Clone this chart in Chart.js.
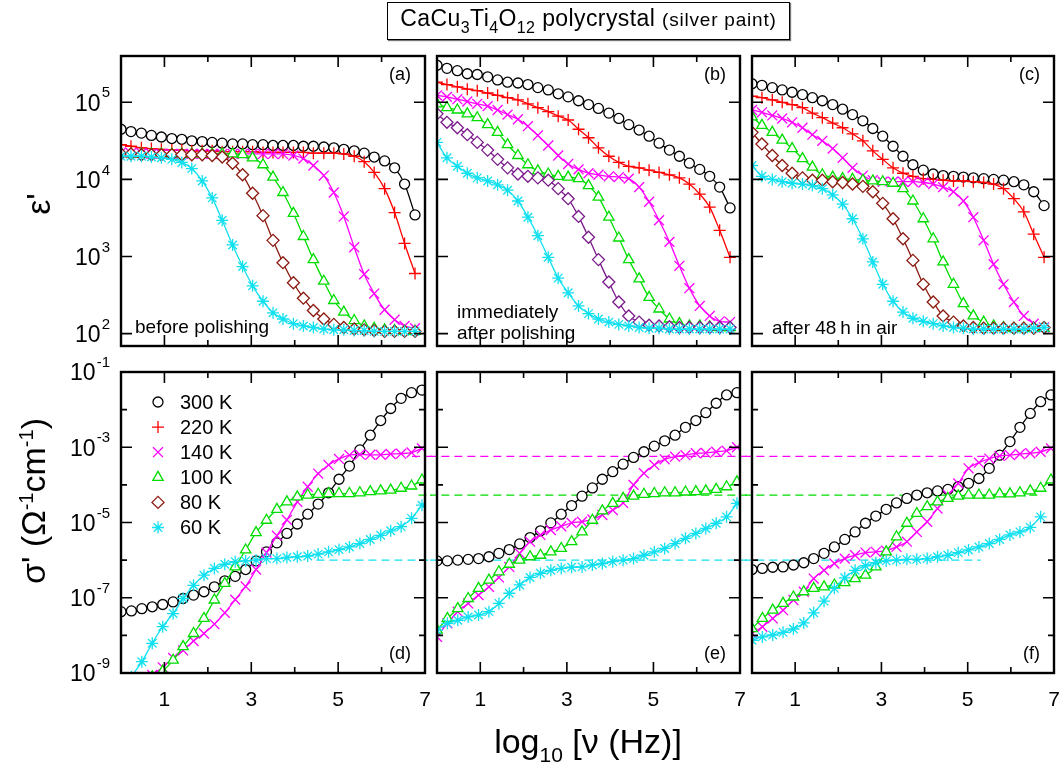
<!DOCTYPE html>
<html>
<head>
<meta charset="utf-8">
<script src="https://cdn.jsdelivr.net/npm/chart.js@4.4.1/dist/chart.umd.min.js"></script>
<style>
html, body { margin: 0; padding: 0; background: #fff; }
#page { position: relative; width: 1063px; height: 767px; overflow: hidden;
  font-family: "Liberation Sans", Arial, sans-serif; color: #000; }
#page canvas { position: absolute; left: 0; top: 0; }
.txt { position: absolute; white-space: nowrap; line-height: 1; }
.sb { font-size: 16px; vertical-align: -7px; }
.rot { transform: translate(-50%, -50%) rotate(-90deg); }
#title { left: 387px; top: 2px; width: 401px; height: 36px; border: 1px solid #000; box-shadow: 1px 1px 1px #777;
  display: flex; align-items: center; justify-content: center; font-size: 23px; letter-spacing: 0.4px; }
</style>
</head>
<body>
<div id="page">
  <canvas id="pa" width="1063" height="767"></canvas>
  <canvas id="pb" width="1063" height="767"></canvas>
  <canvas id="pc" width="1063" height="767"></canvas>
  <canvas id="pd" width="1063" height="767"></canvas>
  <canvas id="pe" width="1063" height="767"></canvas>
  <canvas id="pf" width="1063" height="767"></canvas>

  <div id="title" class="txt"><span>CaCu<span class="sb">3</span>Ti<span class="sb">4</span>O<span class="sb">12</span> polycrystal <span style="font-size:19px; letter-spacing:0.8px">(silver paint)</span></span></div>
  <div class="txt rot" style="left:38px; top:204px; font-size:34px;">&epsilon;'</div>
  <div class="txt rot" style="left:33px; top:501px; font-size:34px;">&sigma;' (&Omega;<sup style="font-size:20px">-1</sup>cm<sup style="font-size:20px">-1</sup>)</div>
  <div class="txt" style="left:588px; top:724px; transform: translateX(-50%); font-size:34px;">log<span style="font-size:21px; vertical-align:-9px">10</span> [&nu; (Hz)]</div>
</div>

<script>
// log10 of frequency (Hz)
const topLogF = [0, 0.23, 0.47, 0.70, 0.93, 1.17, 1.40, 1.63, 1.87, 2.10, 2.33, 2.57, 2.80, 3.03, 3.27,
  3.50, 3.73, 3.97, 4.20, 4.43, 4.67, 4.90, 5.13, 5.37, 5.60, 5.83, 6.07, 6.30, 6.53, 6.77];
const bottomLogF = [0, 0.24, 0.48, 0.72, 0.96, 1.20, 1.43, 1.67, 1.91, 2.15, 2.39, 2.63, 2.87, 3.11, 3.35,
  3.59, 3.82, 4.06, 4.30, 4.54, 4.78, 5.02, 5.26, 5.50, 5.74, 5.98, 6.21, 6.45, 6.69, 6.93];

const temps = ['300 K', '220 K', '140 K', '100 K', '80 K', '60 K'];

// log10 eps' - (a) before polishing
const epsA300 = [4.65,4.62,4.60,4.57,4.55,4.53,4.52,4.50,4.49,4.48,4.47,4.46,4.46,4.45,4.45,4.44,4.44,4.44,4.43,4.43,4.42,4.41,4.39,4.37,4.34,4.29,4.24,4.15,3.94,3.54];
const epsA220 = [4.45,4.43,4.41,4.40,4.39,4.38,4.38,4.37,4.37,4.37,4.36,4.36,4.36,4.36,4.35,4.35,4.35,4.35,4.35,4.34,4.34,4.34,4.33,4.30,4.23,4.09,3.88,3.57,3.17,2.78];
const epsA140 = [4.35,4.34,4.34,4.33,4.33,4.33,4.33,4.33,4.33,4.33,4.33,4.33,4.33,4.33,4.33,4.33,4.33,4.31,4.27,4.18,4.05,3.83,3.52,3.12,2.77,2.52,2.31,2.18,2.10,2.07];
const epsA100 = [4.34,4.33,4.33,4.33,4.33,4.33,4.33,4.33,4.33,4.33,4.33,4.33,4.32,4.28,4.19,4.03,3.83,3.56,3.26,2.96,2.68,2.43,2.28,2.17,2.10,2.07,2.05,2.04,2.03,2.03];
const epsA80  = [4.33,4.33,4.32,4.32,4.32,4.32,4.32,4.32,4.32,4.31,4.29,4.21,4.06,3.82,3.53,3.21,2.92,2.66,2.46,2.30,2.19,2.12,2.08,2.06,2.05,2.04,2.03,2.03,2.03,2.03];
const epsA60  = [4.30,4.30,4.30,4.29,4.28,4.26,4.22,4.14,3.98,3.76,3.47,3.15,2.87,2.62,2.42,2.27,2.19,2.13,2.10,2.08,2.06,2.05,2.05,2.04,2.04,2.03,2.03,2.03,2.03,2.03];

// (b) immediately after polishing
const epsB300 = [5.48,5.44,5.41,5.37,5.36,5.33,5.29,5.26,5.25,5.23,5.19,5.16,5.11,5.07,5.02,4.97,4.92,4.86,4.79,4.71,4.64,4.56,4.47,4.38,4.30,4.21,4.13,4.04,3.90,3.63];
const epsB220 = [5.26,5.23,5.20,5.17,5.15,5.12,5.09,5.06,5.03,4.98,4.93,4.88,4.82,4.77,4.65,4.54,4.41,4.30,4.22,4.17,4.15,4.12,4.09,4.06,4.02,3.94,3.81,3.64,3.34,2.99];
const epsB140 = [5.09,5.07,5.04,5.01,4.98,4.95,4.90,4.84,4.78,4.69,4.57,4.44,4.31,4.20,4.13,4.08,4.06,4.04,4.03,4.01,3.90,3.71,3.47,3.19,2.88,2.59,2.36,2.23,2.16,2.15];
const epsB100 = [4.98,4.93,4.90,4.85,4.80,4.71,4.61,4.45,4.31,4.19,4.11,4.07,4.04,4.03,4.01,3.92,3.77,3.51,3.24,2.96,2.71,2.47,2.32,2.19,2.13,2.10,2.10,2.09,2.08,2.08];
const epsB80  = [4.85,4.74,4.67,4.58,4.48,4.38,4.26,4.15,4.07,4.04,4.02,3.99,3.88,3.75,3.52,3.25,2.96,2.67,2.41,2.23,2.15,2.11,2.10,2.09,2.08,2.08,2.08,2.08,2.08,2.08];
const epsB60  = [4.48,4.28,4.17,4.08,4.02,3.98,3.93,3.86,3.72,3.51,3.27,2.99,2.72,2.53,2.36,2.26,2.19,2.15,2.12,2.10,2.08,2.07,2.07,2.06,2.06,2.06,2.06,2.06,2.06,2.06];

// (c) after 48 h in air
const epsC300 = [5.24,5.22,5.19,5.16,5.13,5.10,5.06,5.02,4.97,4.91,4.84,4.76,4.66,4.56,4.43,4.30,4.19,4.12,4.07,4.05,4.04,4.03,4.02,4.01,4.00,3.99,3.97,3.93,3.84,3.66];
const epsC220 = [5.08,5.06,5.03,5.00,4.97,4.93,4.86,4.80,4.73,4.67,4.59,4.50,4.37,4.26,4.15,4.08,4.04,4.01,4.00,3.99,3.98,3.98,3.97,3.96,3.94,3.88,3.75,3.58,3.29,2.99];
const epsC140 = [4.90,4.87,4.83,4.79,4.74,4.67,4.58,4.50,4.40,4.28,4.15,4.05,3.99,3.97,3.97,3.97,3.97,3.96,3.94,3.90,3.84,3.72,3.51,3.21,2.90,2.64,2.41,2.23,2.13,2.08];
const epsC100 = [4.81,4.70,4.61,4.51,4.40,4.27,4.16,4.06,4.03,4.01,4.00,3.99,3.98,3.97,3.95,3.88,3.72,3.49,3.23,2.93,2.64,2.39,2.23,2.15,2.10,2.08,2.07,2.07,2.07,2.07];
const epsC80  = [4.61,4.46,4.31,4.18,4.08,4.02,3.99,3.99,3.97,3.96,3.94,3.91,3.84,3.69,3.49,3.23,2.95,2.64,2.41,2.23,2.15,2.10,2.08,2.07,2.07,2.07,2.07,2.07,2.07,2.08];
const epsC60  = [4.18,4.04,4.00,3.97,3.95,3.94,3.92,3.88,3.80,3.68,3.49,3.23,2.93,2.64,2.42,2.28,2.20,2.16,2.13,2.10,2.08,2.07,2.06,2.06,2.06,2.06,2.06,2.06,2.07,2.08];

// log10 sigma' (1/(Ohm cm)) - (d), (e), (f)
const sigD300 = [-7.37,-7.35,-7.29,-7.24,-7.18,-7.11,-7.02,-6.93,-6.84,-6.71,-6.55,-6.43,-6.25,-6.02,-5.78,-5.54,-5.29,-5.04,-4.78,-4.51,-4.21,-3.85,-3.50,-3.07,-2.68,-2.29,-1.97,-1.70,-1.55,-1.48];
const sigD140 = [-9.9,-9.6,-9.3,-9.05,-8.85,-8.6,-8.4,-8.15,-7.95,-7.7,-7.4,-7.05,-6.7,-6.25,-5.8,-5.35,-4.93,-4.45,-4.05,-3.70,-3.47,-3.31,-3.21,-3.19,-3.20,-3.20,-3.18,-3.17,-3.14,-3.03];
const sigD100 = [-10.0,-9.7,-9.4,-9.1,-8.95,-8.66,-8.30,-7.95,-7.55,-7.06,-6.62,-6.18,-5.73,-5.27,-4.94,-4.65,-4.45,-4.32,-4.27,-4.25,-4.23,-4.23,-4.23,-4.21,-4.18,-4.16,-4.14,-4.09,-4.03,-3.87];
const sigD60  = [-9.6,-9.1,-8.70,-8.21,-7.77,-7.42,-7.02,-6.67,-6.40,-6.22,-6.11,-6.04,-6.02,-6.00,-5.96,-5.96,-5.93,-5.91,-5.89,-5.84,-5.78,-5.72,-5.65,-5.56,-5.45,-5.34,-5.22,-5.11,-4.89,-4.54];

const sigE300 = [-6.02,-6.02,-6.00,-5.98,-5.96,-5.91,-5.82,-5.72,-5.57,-5.40,-5.22,-5.01,-4.78,-4.55,-4.30,-4.08,-3.85,-3.65,-3.45,-3.27,-3.12,-2.97,-2.83,-2.68,-2.47,-2.29,-2.08,-1.83,-1.61,-1.55];
const sigE140 = [-8.04,-7.68,-7.37,-7.15,-6.93,-6.71,-6.46,-6.18,-5.82,-5.51,-5.33,-5.20,-5.10,-5.01,-4.98,-4.92,-4.80,-4.67,-4.48,-4.00,-3.69,-3.47,-3.32,-3.25,-3.21,-3.16,-3.15,-3.12,-3.09,-3.00];
const sigE100 = [-7.86,-7.55,-7.29,-7.02,-6.75,-6.53,-6.31,-6.11,-6.00,-5.91,-5.87,-5.78,-5.69,-5.51,-5.25,-4.94,-4.69,-4.49,-4.36,-4.30,-4.25,-4.23,-4.21,-4.21,-4.19,-4.18,-4.16,-4.12,-4.05,-3.92];
const sigE60  = [-7.86,-7.68,-7.60,-7.51,-7.46,-7.37,-7.15,-6.88,-6.66,-6.46,-6.35,-6.27,-6.22,-6.19,-6.18,-6.13,-6.09,-6.04,-6.00,-5.96,-5.87,-5.78,-5.69,-5.56,-5.42,-5.29,-5.16,-5.02,-4.85,-4.49];

const sigF300 = [-6.25,-6.22,-6.19,-6.18,-6.13,-6.07,-5.96,-5.82,-5.65,-5.45,-5.25,-5.02,-4.83,-4.65,-4.48,-4.36,-4.27,-4.21,-4.16,-4.12,-4.05,-3.96,-3.83,-3.56,-3.21,-2.85,-2.47,-2.10,-1.79,-1.61];
const sigF140 = [-7.95,-7.77,-7.55,-7.33,-7.06,-6.84,-6.49,-6.27,-6.09,-5.96,-5.87,-5.80,-5.78,-5.75,-5.65,-5.51,-5.25,-4.98,-4.63,-4.27,-3.96,-3.56,-3.41,-3.30,-3.23,-3.21,-3.18,-3.16,-3.12,-3.03];
const sigF100 = [-7.82,-7.55,-7.33,-7.15,-6.98,-6.84,-6.75,-6.71,-6.66,-6.60,-6.49,-6.40,-6.18,-5.78,-5.38,-5.02,-4.76,-4.58,-4.45,-4.36,-4.30,-4.27,-4.27,-4.27,-4.24,-4.24,-4.21,-4.16,-4.09,-3.87];
const sigF60  = [-8.13,-8.04,-7.99,-7.92,-7.83,-7.67,-7.40,-7.09,-6.75,-6.47,-6.27,-6.15,-6.07,-6.02,-6.00,-5.98,-5.98,-5.96,-5.91,-5.87,-5.80,-5.73,-5.65,-5.56,-5.45,-5.33,-5.25,-5.13,-4.85,null];

// dashed plateau levels (log10 sigma') for 140 K, 100 K, 60 K and their x extents per panel
const dashTemps = ['140 K', '100 K', '60 K'];
const dashLevels = [-3.24, -4.27, -6.0];
const dashSpanD = [[6.7, 7.2], [6.85, 7.2], [4.5, 7.2]];
const dashSpanE = [[-0.2, 7.2], [-0.2, 7.2], [-0.2, 7.2]];
const dashSpanF = [[-0.2, 5.4], [-0.2, 6.7], [-0.2, 5.3]];

// axes
const xTickValues = [1, 2, 3, 4, 5, 6];
const xTickLabels = [1, 3, 5, 7];
const epsRange = [1.84, 5.6];
const epsTicks = [2, 3, 4, 5];
const epsLabels = [2, 3, 4, 5];
const sigRange = [-9, -1];
const sigTicks = [-2, -3, -4, -5, -6, -7, -8];
const sigLabels = [-1, -3, -5, -7, -9];

// styles
const styles = {
  '300 K': { color: '#000000', pointStyle: 'circle', radius: 5 },
  '220 K': { color: '#ff0000', pointStyle: 'cross', radius: 6 },
  '140 K': { color: '#ff00ff', pointStyle: 'crossRot', radius: 7 },
  '100 K': { color: '#00dd00', pointStyle: 'triangle', radius: 6 },
  '80 K':  { color: '#8b1a10', pointStyle: 'rectRot', radius: 6 },
  '60 K':  { color: '#10e0f0', pointStyle: 'star', radius: 6 }
};
const purple = '#7a1a8a';
const FONT = '"Liberation Sans", Arial, sans-serif';

const W = 1063, H = 767;
const cols = [[121, 425], [437, 740], [752, 1054]];
const rows = [[56, 346], [372, 673]];

function series(label, xs, logs, color) {
  const st = styles[label];
  const c = color || st.color;
  return {
    label: label,
    data: xs.map((x, i) => ({ x: x, y: logs[i] == null ? null : Math.pow(10, logs[i]) })),
    borderColor: c,
    borderWidth: 1.3,
    pointStyle: st.pointStyle,
    pointRadius: st.radius,
    pointBorderColor: c,
    pointBackgroundColor: '#ffffff',
    pointBorderWidth: 1.3,
    cubicInterpolationMode: 'monotone',
    order: 5 - temps.indexOf(label),
    clip: 0
  };
}

function dashes(spans) {
  return dashTemps.map((t, i) => ({
    label: t + ' dc',
    data: [{ x: spans[i][0], y: Math.pow(10, dashLevels[i]) }, { x: spans[i][1], y: Math.pow(10, dashLevels[i]) }],
    borderColor: styles[t].color,
    borderWidth: 1.3,
    borderDash: [8, 5],
    pointRadius: 0,
    order: 10,
    clip: { left: 7, right: 7, top: 0, bottom: 0 }
  }));
}

function decor(p) {
  return {
    id: 'decor',
    afterDatasetsDraw(chart) {
      const ctx = chart.ctx, a = chart.chartArea, xs = chart.scales.x, ys = chart.scales.y;
      ctx.save();
      // inward ticks on all four sides
      ctx.strokeStyle = '#000';
      ctx.lineWidth = 1.6;
      ctx.beginPath();
      xTickValues.forEach(v => {
        const px = xs.getPixelForValue(v);
        const len = xTickLabels.includes(v) ? 11 : 6;
        ctx.moveTo(px, a.bottom); ctx.lineTo(px, a.bottom - len);
        ctx.moveTo(px, a.top); ctx.lineTo(px, a.top + len);
      });
      p.yTicks.forEach(e => {
        const py = ys.getPixelForValue(Math.pow(10, e));
        const len = p.yLabels.includes(e) ? 11 : 6;
        ctx.moveTo(a.left, py); ctx.lineTo(a.left + len, py);
        ctx.moveTo(a.right, py); ctx.lineTo(a.right - len, py);
      });
      ctx.stroke();
      ctx.lineWidth = 2.4;
      ctx.strokeRect(a.left, a.top, a.right - a.left, a.bottom - a.top);

      ctx.fillStyle = '#000';
      // y tick labels 10^n
      if (p.showY) {
        p.yLabels.forEach(e => {
          const py = ys.getPixelForValue(Math.pow(10, e));
          const right = a.left - 11;
          ctx.font = '15px ' + FONT;
          const ex = String(e);
          const ew = ctx.measureText(ex).width;
          ctx.textAlign = 'left';
          ctx.textBaseline = 'middle';
          ctx.fillText(ex, right - ew, py - 9);
          ctx.font = '23px ' + FONT;
          ctx.textAlign = 'right';
          ctx.fillText('10', right - ew - 1, py + 2);
        });
      }
      // x tick labels
      if (p.showX) {
        ctx.font = '21px ' + FONT;
        ctx.textAlign = 'center';
        ctx.textBaseline = 'middle';
        xTickLabels.forEach(v => ctx.fillText(String(v), xs.getPixelForValue(v), a.bottom + 27));
      }
      // panel letter
      ctx.font = '18px ' + FONT;
      ctx.textAlign = 'right';
      ctx.textBaseline = 'middle';
      ctx.fillText(p.letter, a.right - 14, p.letterTop ? a.top + 19 : a.bottom - 19);
      // annotation
      ctx.font = '19px ' + FONT;
      ctx.textAlign = 'left';
      ctx.textBaseline = 'alphabetic';
      (p.notes || []).forEach(n => ctx.fillText(n[0], a.left + n[1], a.bottom - n[2]));
      // legend
      if (p.legend) {
        ctx.font = '20px ' + FONT;
        ctx.textBaseline = 'middle';
        temps.forEach((t, i) => {
          const st = styles[t];
          const y = a.top + 30 + i * 25.1;
          ctx.save();
          ctx.strokeStyle = st.color;
          ctx.fillStyle = '#fff';
          ctx.lineWidth = 1.3;
          Chart.helpers.drawPoint(ctx, { pointStyle: st.pointStyle, radius: st.radius, borderWidth: 1.3, rotation: 0 }, a.left + 37, y);
          ctx.restore();
          ctx.fillText(t, a.left + 59, y + 1);
        });
      }
      ctx.restore();
    }
  };
}

function panel(id, col, row, datasets, yr, p) {
  const [l, r] = cols[col], [t, b] = rows[row];
  new Chart(document.getElementById(id), {
    type: 'line',
    data: { datasets: datasets },
    options: {
      responsive: false,
      animation: false,
      devicePixelRatio: 1,
      layout: { padding: { left: l, right: W - r, top: t, bottom: H - b } },
      scales: {
        x: { type: 'linear', min: 0, max: 7, display: false },
        y: { type: 'logarithmic', min: Math.pow(10, yr[0]), max: Math.pow(10, yr[1]), display: false }
      },
      plugins: { legend: { display: false }, tooltip: { enabled: false } },
      events: []
    },
    plugins: [decor(p)]
  });
}

const topP = (letter, showY, notes) => ({ letter, showY, notes, yTicks: epsTicks, yLabels: epsLabels, letterTop: true });
const botP = (letter, showY, legend) => ({ letter, showY, legend, showX: true, yTicks: sigTicks, yLabels: sigLabels, letterTop: false });

panel('pa', 0, 0, [
  series('300 K', topLogF, epsA300), series('220 K', topLogF, epsA220), series('140 K', topLogF, epsA140),
  series('100 K', topLogF, epsA100), series('80 K', topLogF, epsA80), series('60 K', topLogF, epsA60)
], epsRange, topP('(a)', true, [['before polishing', 14, 13]]));

panel('pb', 1, 0, [
  series('300 K', topLogF, epsB300), series('220 K', topLogF, epsB220), series('140 K', topLogF, epsB140),
  series('100 K', topLogF, epsB100), series('80 K', topLogF, epsB80, purple), series('60 K', topLogF, epsB60)
], epsRange, topP('(b)', false, [['immediately', 20, 28], ['after polishing', 20, 7]]));

panel('pc', 2, 0, [
  series('300 K', topLogF, epsC300), series('220 K', topLogF, epsC220), series('140 K', topLogF, epsC140),
  series('100 K', topLogF, epsC100), series('80 K', topLogF, epsC80), series('60 K', topLogF, epsC60)
], epsRange, topP('(c)', false, [['after 48\u2009h in air', 20, 12]]));

panel('pd', 0, 1, dashes(dashSpanD).concat([
  series('300 K', bottomLogF, sigD300), series('140 K', bottomLogF, sigD140),
  series('100 K', bottomLogF, sigD100), series('60 K', bottomLogF, sigD60)
]), sigRange, botP('(d)', true, true));

panel('pe', 1, 1, dashes(dashSpanE).concat([
  series('300 K', bottomLogF, sigE300), series('140 K', bottomLogF, sigE140),
  series('100 K', bottomLogF, sigE100), series('60 K', bottomLogF, sigE60)
]), sigRange, botP('(e)', false, false));

panel('pf', 2, 1, dashes(dashSpanF).concat([
  series('300 K', bottomLogF, sigF300), series('140 K', bottomLogF, sigF140),
  series('100 K', bottomLogF, sigF100), series('60 K', bottomLogF, sigF60)
]), sigRange, botP('(f)', false, false));
</script>
</body>
</html>
